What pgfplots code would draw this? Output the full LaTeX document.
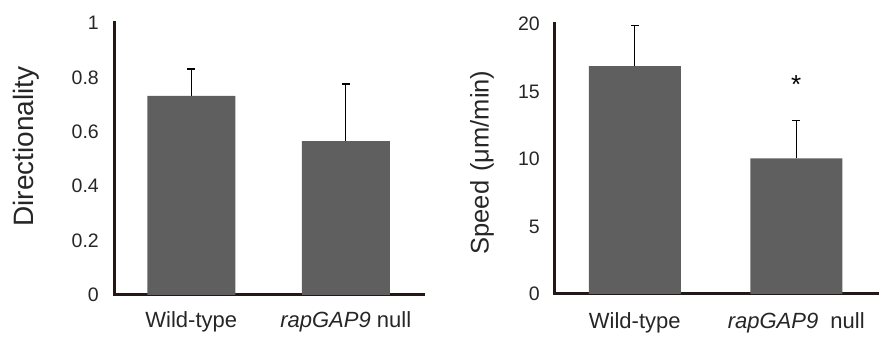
\documentclass[border=0pt]{standalone}
\usepackage{pgfplots}
\pgfplotsset{compat=1.18}
\usepackage{fontspec}
\setmainfont{Liberation Sans}
\definecolor{axcol}{HTML}{231815}
\definecolor{barcol}{HTML}{5F5F5F}
\begin{document}
\begin{tikzpicture}
\useasboundingbox (0,0) rectangle (883pt,339pt);
\pgfplotsset{
  mybar/.style={
    scale only axis,
    anchor=south west,
    axis lines=left,
    axis line style={-, line width=3pt, color=axcol, line cap=rect},
    xmin=-0.5, xmax=1.5, ymin=0,
    xtick={0,1},
    major tick length=0pt,
    clip=false,
    /pgf/number format/assume math mode=true,
    yticklabel style={font=\fontsize{19.5}{22}\selectfont, inner sep=0pt, anchor=east, color=black!85},
    xticklabel style={font=\fontsize{22}{25}\selectfont, inner sep=0pt, anchor=north, color=black!85},
    ylabel style={anchor=center, rotate=0, color=black!85},
  },
}
\begin{axis}[mybar, at={(114pt,44pt)}, width=309pt, height=272pt,
  ymax=1, ytick={0,0.2,0.4,0.6,0.8,1},
  yticklabel style={xshift=-15pt},
  xticklabel style={yshift=-16pt},
  xticklabels={Wild-type, {\itshape rapGAP9} null},
  ylabel={Directionality},
  ylabel style={font=\fontsize{28}{30}\selectfont, at={(axis description cs:-0.285,0.546)}},
]
\addplot[ybar, bar width=88pt, fill=barcol, draw=none,
    error bars/.cd, y dir=plus, y explicit,
    error bar style={line width=1.3pt, color=black},
    error mark options={rotate=90, mark size=4pt, line width=1.3pt, color=black}]
  coordinates {(0,0.732) +- (0,0.099) (1,0.566) +- (0,0.210)};
\end{axis}
\begin{axis}[mybar, at={(554pt,45pt)}, width=323pt, height=270pt,
  ymax=20, ytick={0,5,10,15,20},
  yticklabel style={xshift=-14pt},
  xticklabel style={yshift=-18pt},
  xticklabels={Wild-type, {\itshape rapGAP9}\ \ null},
  ylabel={Speed\hspace{2pt} (μm/min)},
  ylabel style={font=\fontsize{25.5}{28}\selectfont, at={(axis description cs:-0.223,0.487)}},
]
\addplot[ybar, bar width=92pt, fill=barcol, draw=none,
    error bars/.cd, y dir=plus, y explicit,
    error bar style={line width=1.3pt, color=black},
    error mark options={rotate=90, mark size=4pt, line width=1.3pt, color=black}]
  coordinates {(0,16.88) +- (0,2.99) (1,10.04) +- (0,2.82)};
\node[font=\fontsize{26}{28}\selectfont] at (axis cs:1,15.5) {*};
\end{axis}
\end{tikzpicture}
\end{document}
